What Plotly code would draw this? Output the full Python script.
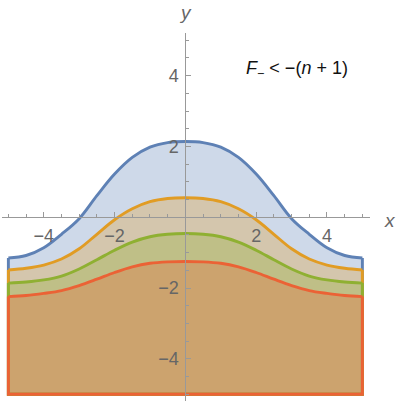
import plotly.graph_objects as go

# ---- data ----
x_vals = [-5.0, -4.5, -4.0, -3.5, -3.0, -2.5, -2.0, -1.5, -1.0, -0.5, 0.0,
          0.5, 1.0, 1.5, 2.0, 2.5, 3.0, 3.5, 4.0, 4.5, 5.0]
blue_vals = [-1.15, -1.08, -0.86, -0.48, -0.04, 0.61, 1.22, 1.69, 1.98, 2.11, 2.14,
             2.11, 1.98, 1.69, 1.22, 0.61, -0.04, -0.48, -0.86, -1.08, -1.15]
orange_vals = [-1.49, -1.44, -1.35, -1.18, -0.89, -0.48, -0.07, 0.24, 0.44, 0.53, 0.55,
               0.53, 0.44, 0.24, -0.07, -0.48, -0.89, -1.18, -1.35, -1.44, -1.49]
green_vals = [-1.86, -1.83, -1.77, -1.66, -1.46, -1.20, -0.93, -0.70, -0.55, -0.48, -0.46,
              -0.48, -0.55, -0.70, -0.93, -1.20, -1.46, -1.66, -1.77, -1.83, -1.86]
red_vals = [-2.24, -2.21, -2.15, -2.07, -1.93, -1.75, -1.56, -1.40, -1.30, -1.26, -1.25,
            -1.26, -1.30, -1.40, -1.56, -1.75, -1.93, -2.07, -2.15, -2.21, -2.24]
y_floor = -5.0
x_left, x_right = -5.0, 5.0

tick_vals = [-4, -2, 2, 4]
tick_text = ["\u22124", "\u22122", "2", "4"]
minor_vals = [-5, -4.5, -3.5, -3, -2.5, -1.5, -1, -0.5, 0.5, 1, 1.5, 2.5, 3, 3.5, 4.5, 5]

series = [
    (blue_vals, (94, 129, 181)),
    (orange_vals, (225, 156, 36)),
    (green_vals, (143, 176, 50)),
    (red_vals, (235, 98, 53)),
]

LW = 2.9
fig = go.Figure()
for ys, (r, g, b) in series:
    col = f"rgb({r},{g},{b})"
    fill = f"rgba({r},{g},{b},0.3)"
    fig.add_trace(go.Scatter(
        x=[x_left] + x_vals + [x_right], y=[y_floor] + ys + [y_floor],
        mode="lines", fill="toself", fillcolor=fill, line=dict(width=0),
        hoverinfo="skip", showlegend=False))
    fig.add_trace(go.Scatter(
        x=[x_vals[0], x_left, x_right, x_vals[-1]], y=[ys[0], y_floor, y_floor, ys[-1]],
        mode="lines", line=dict(color=col, width=LW), showlegend=False))
    fig.add_trace(go.Scatter(
        x=x_vals, y=ys, mode="lines", line=dict(color=col, width=LW, shape="spline"),
        showlegend=False))

xr = [-5.18, 5.215]
yr = [-5.19, 5.206]
axis_col = "#999999"
lab_font = dict(family="Liberation Sans, Arial", size=18, color="#666666")

fig.update_layout(
    width=399, height=404,
    margin=dict(l=2, r=29, t=33, b=3, autoexpand=False),
    plot_bgcolor="white", paper_bgcolor="white",
    xaxis=dict(range=xr, showgrid=False, zeroline=False, showline=True,
               linecolor=axis_col, linewidth=1, anchor="free", automargin=False,
               position=(0 - yr[0]) / (yr[1] - yr[0]),
               ticks="inside", ticklen=5, tickcolor=axis_col, tickwidth=1,
               tickvals=tick_vals, ticktext=tick_text, tickfont=lab_font,
               ticklabelstandoff=2,
               minor=dict(tickvals=minor_vals, ticks="inside", ticklen=3,
                          tickcolor=axis_col, showgrid=False)),
    yaxis=dict(range=yr, showgrid=False, zeroline=False, showline=True,
               linecolor=axis_col, linewidth=1, anchor="free", automargin=False,
               position=(0 - xr[0]) / (xr[1] - xr[0]),
               ticks="inside", ticklen=5, tickcolor=axis_col, tickwidth=1,
               tickvals=tick_vals, ticktext=tick_text, tickfont=lab_font,
               ticklabelstandoff=3,
               minor=dict(tickvals=minor_vals, ticks="inside", ticklen=3,
                          tickcolor=axis_col, showgrid=False)),
    annotations=[
        dict(x=1.054, y=0.49, xref="paper", yref="paper", text="<i>x</i>", showarrow=False,
             xanchor="center", yanchor="middle",
             font=dict(family="Liberation Sans, Arial", size=19, color="#666666")),
        dict(x=0.498, y=1.057, xref="paper", yref="paper", text="<i>y</i>", showarrow=False,
             xanchor="center", yanchor="middle",
             font=dict(family="Liberation Sans, Arial", size=19, color="#666666")),
        dict(x=0.8016, y=0.8995, xref="paper", yref="paper",
             text="<i>F</i><sub>\u2212</sub> &#60; \u2212(<i>n</i> + 1)",
             showarrow=False, xanchor="center", yanchor="middle",
             font=dict(family="Liberation Sans, Arial", size=18, color="#111111")),
    ],
)

fig.write_html("out.html", config={"displayModeBar": False},
               post_script="document.body.style.margin='0';document.body.style.overflow='hidden';")
